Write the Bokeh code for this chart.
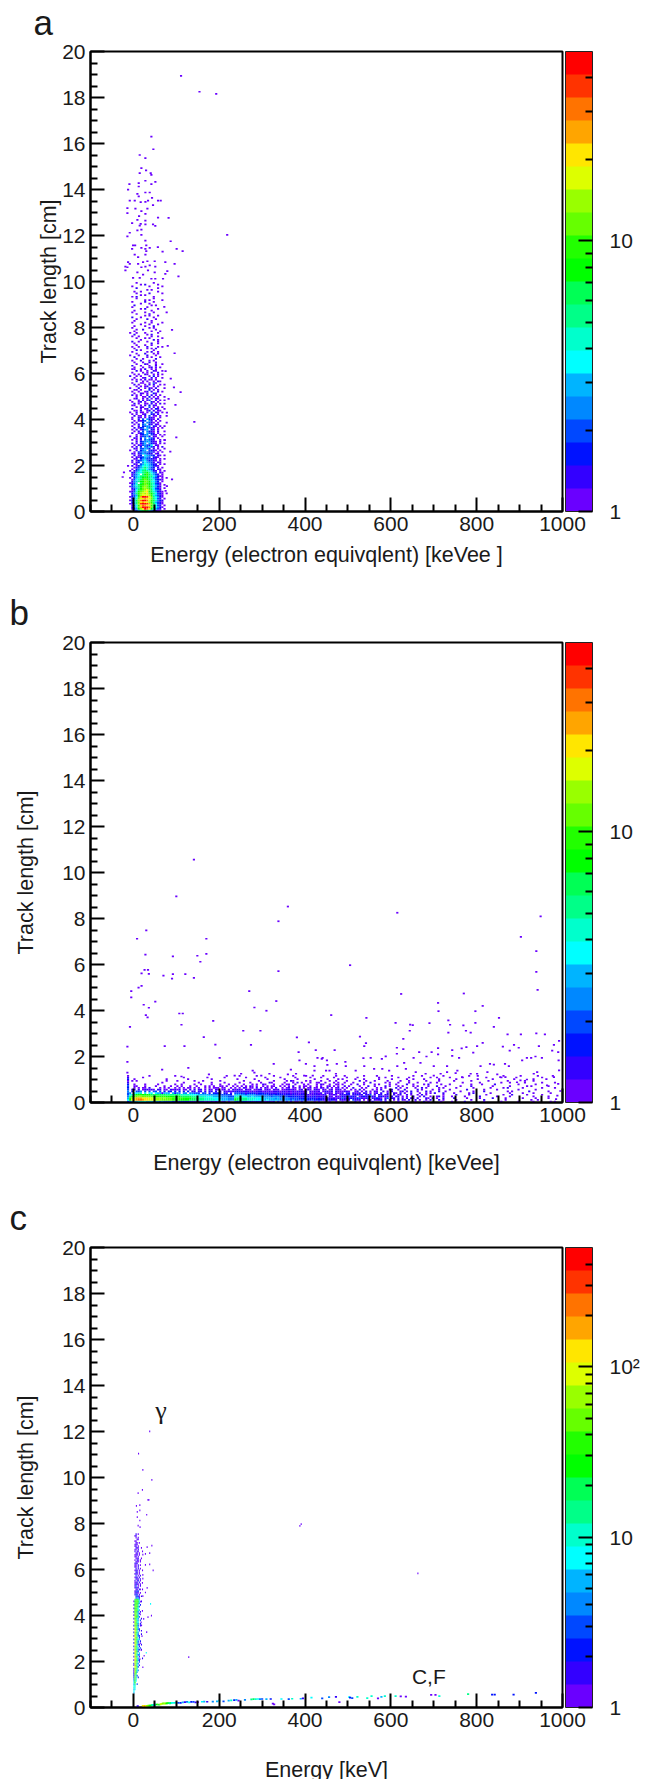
from bokeh.plotting import figure
from bokeh.layouts import column
from bokeh.models import FixedTicker, ColorBar, LogColorMapper, Label, Range1d, Title
from bokeh.embed import file_html
from bokeh.resources import INLINE

FONT = "Liberation Sans"
x_major = [0, 200, 400, 600, 800, 1000]
x_minor = [-100, -50, 50, 100, 150, 250, 300, 350, 450, 500, 550, 650, 700, 750, 850, 900, 950]
y_major = [0, 2, 4, 6, 8, 10, 12, 14, 16, 18, 20]
y_minor = [0.5 * i for i in range(41) if i % 4]
palette = ["#6a00ff", "#3300ff", "#0012ff", "#0048ff", "#0088ff", "#00b4ff", "#00ffff", "#00ffcc", "#00ff88", "#00ff55",
           "#00ff00", "#22ff00", "#66ff00", "#99ff00", "#ddff00", "#ffe600", "#ffa500", "#ff7300", "#ff3300", "#ff0000"]
levels = "0123456789abcdefghij"   # one character per colour band of the palette; "." is an empty bin

# Panel a: bins 5 keVee wide from -15, 0.075 cm tall from 0
a_rows_low = [
 "...13589a9742100....", "..025adfjhfa7531.0..", "..137cgjjjhc96420...", "..036bfhgfeb8631.0..", ".0148dijjigc96320...",
 "..258cfgffdb85310...", ".0259dhjjheb97421...", "..147cefgfec8631.0..", ".0236bgjjifc86420...", "..135adefedb75310...",
 "..248bdedfca86320.0.", ".0137acdefb975210...", "..0269bcdec96431....", "..1358acdcb86320.0..", ".03478acdca97521....",
 "..2469abcca86430.0..", ".0137.9bcba87320....", "..1458aacca7642.0...", "..03679bcb9863210...", ".0.2578aba97531.0.0.",
 "..1356899b8864200...", "..0346.8ab97531.0...", "..2157689a8643.10...", ".0.13568987521.0.0..", "..0.246786431.10....",
 "...0135797532.1.0...", "0.1.02467654210.....",
]
a_rows_mid = [
 "...10.35765321.0.0..", "..0.12.465431.10....", "..1.0235642310.0....", "...01.24533210.0.0..", "..0.1023543.210.....",
 "...1.02.65432.10.0..", "..10.1354321.01.....", "...0.23434231.0.0...", ".0..1.245.3210.0....", "...10.33542.1.0..0..",
 "..0.1.2.43531.0.1...", "...0.1034326.10.....", "..1.0.135.4210.0.0..", "....1.23445210.1....", "..0.0.1.35321..0.0..",
 "...10.2.4.531.0.....", ".0..1.03352.10..0...", "....0.1244.310.0.0..", "..1..023.5321.0.....", "...0.1.3.4210.1..0..",
 "..0.1.0245.21.0.....", "...1.023.5310.0.0...", "..0..1.2344.20.0.0..", "...0.1.35.21.10.....", "..1.0..2.4310.0...0.",
 "...0.1023.41.0.0....", "..0..1.3.5210.1.....",
]
a_rows_up = [
 "..0..10.0.210..0....", "...1.00.1.3.00.0..0.", "..0.0..01..21.1.....", ".0..1.00.0.3.10.0...", "...00.1..02.1.00....",
 "..1...0.01.0.21..0..", "....0.10..3.0.0.0...", "..00..0.1.2.10......", "...1.0..00.1.0.1.0..", "..0..01.0..20.0.....",
 ".0...0.1.03..1.0.0..", "...01..0.1.0.10.....", "....0..00.2.0.0..0..", "..1.0.0..1.1.0.0....", "...0..10.0..20......",
 "..0..0..01.1..1.0...", "...00.0...2.0.0.....", ".0...1..0.10.1...0..", "....0.0.01..0.0.....", "...1.0..0.1.1..0.0..",
 "..0...00..0.30......", "....1..0.0..0.10....", "..0.0.0.1.00.0......", "...0...01..1.0..0...", ".1..0.0...0.2.0.....",
 "...0.0..10..0.0.0...", "..0....0.0.1..1.....", "....1.0..0..10..0...", "..00..0.1..0.0......", "...0...0..01.0.0....",
 "..1...0...0..1......", "....0...10...0..0...", "...0...0..1..0......", "..0...1...0.0.......", "....0..0.....1......",
 "...1.....0.0...0....", ".0...0...1...0......", "....0...1...0.0.....", "..0......0.1..0.....", "....1.0.....0.......",
 "...0.....0.0.1......", "..0..0...1....0.0...", "....0...0..0........", "...0.......1..0.....", "..1..0...0....0.....",
 "......0.....1.0.....", "....0...0.0.....0...", "..0..0.....0..0.....", "...1.....0.1........", ".0..0...0.....0.....",
 "...0.......0...0....", "....0..1.....0......", "..0.......0.0.......", "...0....0...1.......", "......0...0...0.....",
 "..0.....0..0....0...", "...0.......0........", "....0....1...0......", "..1...0.....0.......", "........0.0...0.....",
 "....0.....1.........", "..0.....0...0.....0.", "...0.......0........", "......0.1.....0.....", "..0......0..........",
 "...1.......0.0......", "......0...0.........", "..0.....1...0.......", "........0.0.....0...", "....0.......0.......",
 "..0.1.......0.......", "......0.0...........", "....0.....1.....0...", "...0..0.......0.....", ".........0.0........",
 "....1.........0.....", "..0.......0.....0...", "......0.1.....0.....", "....0.......0.......",
]
a_sparse = [(111,18.94),(154,18.25),(193,18.16),(218.6,12.03),(41.9,16.3),(46.5,15.75),(14.7,15.5),(27.9,15.36),(18.6,14.93),
 (29.5,14.83),(40.3,14.71),(41.9,14.64),(14.7,14.71),(27.9,14.38),(51.2,14.33),(41.9,14.23),(-9.3,14.23),(12.4,14.28),(12.4,14.13),
 (-12.4,13.99),(27.9,13.87),(38,13.87),(9.3,13.81),(12.4,13.7),(43.4,13.64),(57.4,13.52),(63.6,13.52),(34.1,13.52),(-8.5,13.52),
 (3.1,13.52),(17,13.45),(28,13.46),(45.7,13.32),(-14,13.19),(4.7,13.17),(32.6,13.17),(-14,12.97),(18.6,13.06),(28,12.94),(13.2,12.84),
 (57.4,12.78),(82,12.77),(9.3,12.68),(27.9,12.65),(17,12.51),(-3,12.54),(14.7,12.43),(45.7,12.48),(51,12.42),(28,12.48),(18.6,12.26),
 (9.3,12.22),(-8.5,12.12),(-14,11.96),(18.6,12.03),(27.9,11.78),(86.8,11.75),(-0.8,11.57),(4,11.57),(30,11.57),(57,11.49),(18.6,11.46),
 (27.9,11.42),(38,11.46),(100.8,11.42),(-3,11.42),(30,11.32),(68,11.3),(114.7,11.32),(3,11.17),(11,11.06),(28,11.17),(-12.4,10.84),
 (-8.5,10.77),(32.6,10.88),(22.5,10.84),(49.6,10.88),(74.4,10.84),(96,10.77),(-18.6,10.65),(-14,10.62),(11,10.77),(18.6,10.62),(28,10.65),
 (38,10.7),(51,10.65),(79,10.45),(-18.6,10.48),(9.3,10.4),(34,10.48),(49.6,10.4),(74.4,10.33),(22.5,10.3),(-0.8,10.16),(14.7,10.16),
 (105,10.22),(41.9,10.12),(51,10.12),(69,10.12),(142,3.9),(90,7.9),(96,6.88),(87,5.78),(94.5,5.4),(110,5.19),(98,4.64),(100,3.22),
 (72,8.9),(80,7.2),(75,6.1),(82,4.9),(78,4.3),(73,3.1),(86,2.6),(90,1.4),(78,1.1),(75,0.9),(-22,1.7),(-25,1.5)]

# Panel b: four blocks of bins, 5 keVee wide, 0.075 cm tall from 0
b_rows_1 = [
 "2345567765554443433332222222211111110101010.01.0..", "6aefghhgffeeedddcccccbbbbaaaa999888877777666555444",
 "5bdegggfffeeedddcdcccbbbbbaaaa99988877776665555444", "48bccddcccccbbbbbbaaaaaaa9999988877776665555444333",
 "3679aabaaaa99999998888888777766665555544444333332.", "34.6677.7.66.6551555.5244.44.44333.33.2.2221.21.1.",
 "4.2.334.3.3.33.3.2.22.2.2.2.2.11.11.1.11.1.1.10101", "3.11.1.011010.11.00.10101.00.1.1.11.0.10.10.01.0.1",
 "2..0.0.00.1....0.0.0..0.0.0.00.0.0..0.0.000.00..0.", "3..00...0....0...0..0..0.0...0..0...0.0.0..00.0..0",
 "2..0....0.....0.......0..0.....0..0....0...0...0..", "1...............0.........0......0.....0.....0...",
 "0.0.0.............0....0.......0...0.......0......", "2..0..............0.........0..........0..........",
 "1......0..................0..........0.......0....", "0.........0...........0.......................0..",
]
b_rows_2 = [
 "3232221211211101101.1.0.1.1.00.1.0...0.0..0.0..0.", "a98888777666665655555444443433333222322221121211.1",
 "99988877776666555554544444333322232222121211111011", "7776665565555444434443333222222122111211111.10.100",
 "5554434444333333223222212212111211101111011.1010.1", "3332312222122212111121111101110111.101101.1010.100",
 "1211111010111010101110110101011101.10101.01101.100", "0110.101.0011.010.101.0011010.01.010.110.10.01.010",
 "0.0.10.00.1.0.10.0.1..0.01.00.1.0.01.00.10.1.0.01.", ".0.0.0.10.0..0.0.00..0.0.0.1..0.00.0..0.0..01.0.0.",
 "0...0...0.0..10...0...0.00..0...0.0...0.10..0..00.", "..0....0....0...10.....0...0.1.0...0..00..0...0.0.",
 "....0......0......0.....0.10.....0.0....0...0..0..", ".0.......0.....0.......0.....0.......0.....0....0.",
 ".....0........0......0......0......0....0.....0...", "..0.......0.......0........0.....0.......0.....0..",
]
b_rows_3 = [
 "0.1...1.0...0.1...0.1.....0...1...0...1.0.....0..", "1101.3111.0.01.1012.1.1.0.1.10.1..1.0..0.1...1.0.",
 "3121211231012.11210.13.11.1.1.1.10.1...10.1.0..1.", "2113121.01211311.12101.1.11.0.0..1..0.1..0..01.0.",
 "1121.11211.113.1.11.11..1.01..1.0..0.1.0.......0.", "1.12.1101.11.0.01.1..1..10.1.0..1...0..0.0.1...1.",
 "0110..01.0.1.0.10..1.0.1...01.0.1..0...1.0...1..0", ".0..0.0.1.0...0.0.1...01..0..1.....1.0....0..0...",
 "0.0..1...0.0....0.0.0....1.0..0...0..1.0.....0.0.", ".1.0....0...1..0....1.0...0.0....0.0....0...1...0",
 "0...0..1..0....0.0....0..0....1..0....0.1.....0..", ".0...0....0..1......0.0...0....0...0.....0..0....",
 "..0.....1..0...0.....0.....0...0.......0.....0...", "0.....0...0......0.....0......0..0....0......0..",
 "..0....0.........0..0.....0....0.........0..0.....", ".0........0.....0......0.........0...0.........0..",
]
b_rows_4 = [
 ".0.....1........0.......0.......0......0.......0.0", "...0......0.....1.........0...........0..0........",
 "..1.....0.....0.....1.....0.......0.....0.....0...", ".0.....0......1.......0.....0..........0......0...",
 "...1.....0.......0.......0...1......0......0......", "..0......0.1.......0........0.....0....0.......0..",
 ".....0.....0....1..........0.0.......1........0...", "0.......1.......0.....0.........0.......0.........",
 "...0.......0.......0.....0.1......0........0.....0", ".....0....1.........0.......0.......0.0.......0...",
 "0.........0....0.....1..........0.......0.........", "......0.......0.........0...0......0.......0.....0",
 "..0.......0.......0........0.......0...0..........", "...0.........0......0.........0........0.....0....",
 "0.....0..........0......0......0...........0......", ".........0...0...........0.......0.......0......0.",
]
b_sparse = [(141,10.56),(100,8.96),(30,7.48),(8.5,7.12),(170,7.12),(28,6.43),(92,6.35),(149,6.38),(170,6.46),(156,6.12),(26,5.77),(34,5.77),
 (19,5.61),(36,5.59),(70,5.52),(92,5.58),(90,5.39),(121,5.58),(141,5.42),(19,5.07),(12,4.99),(-5,4.84),(-5,4.57),(51,4.39),(24,4.25),(36,4.12),
 (107,3.87),(115,3.87),(29,3.8),(33,3.7),(112,3.38),(-8,3.29),(186,3.55),(256,3.12),(296,3.12),(164,2.84),(-14,2.43),(73,2.45),(119,2.45),
 (191,2.52),(274,2.51),(201,1.94),(-14,1.77),(128,1.51),(67,1.43),(-14,1.3),(176,1.22),(112,1.13),(270,4.84),(282,4.13),(310,3.99),(333,4.41),
 (338,5.71),(338,7.88),(360,8.52),(381,2.83),(409,2.61),(425,2.28),(385,2.19),(327,1.68),(367,1.43),(387,1.83),(402,1.68),(429,1.94),(441,1.94),
 (451,1.83),(422,1.58),(422,1.39),(457,1.39),(360,1.22),(379,1.25),(398,1.17),(418,1.17),(251,1.25),(278,1.39),(282,1.3),(298,1.17),(317,1.25),
 (236,1.17),(615,8.25),(949,8.09),(903,7.2),(939,6.58),(939,5.68),(505,5.97),(942,4.9),(624,4.72),(770,4.74),(710,4.33),(711,3.97),(797,3.97),
 (814,4.2),(461,3.8),(543,3.68),(852,3.68),(611,3.46),(645,3.39),(651,3.36),(690,3.45),(734,3.57),(738,3.38),(769,3.35),(797,3.46),(840,3.29),
 (644,3.12),(734,3.04),(775,3.12),(786,3.04),(872,2.96),(903,2.96),(939,3.01),(959,2.96),(629,2.77),(528,2.86),(542,2.58),(538,2.45),(992,2.68),
 (814,2.59),(801,2.45),(776,2.41),(765,2.35),(710,2.36),(743,2.28),(614,2.38),(629,2.32),(469,2.28),(887,2.51),(877,2.26),(861,2.43),(980,2.51),
 (945,2.45),(898,2.38),(927,1.94),(952,1.94),(976,2.26),(990,2.19),(917,1.94),(937,2),(906,1.83),(866,1.68),(875,1.58),(831,1.68),(840,1.65),
 (809,1.58),(792,2.17),(743,2.03),(759,1.94),(710,2.09),(695,2.19),(666,2.19),(653,1.94),(683,2),(614,2.12),(588,2.01),(579,1.9),(553,1.94),
 (536,1.93),(494,1.77),(474,1.68),(452,1.64),(439,1.9),(631,1.72),(669,1.72),(700,1.58),(731,1.58),(755,1.39),(786,1.25),(825,1.32),(848,1.22),
 (867,1.1),(933,1.25),(991,1.83),(990,.81),(964,.74),(980,1.1),(941,1.32),(902,.96),(917,1),(894,.88),(855,1.1),(801,1.25),(766,1.1),(751,1.28),
 (731,1.32),(716,1.25),(700,1.17),(681,1.25),(658,1.32),(635,1.46),(615,1.58),(596,1.39),(580,1.46),(561,1.46),(538,1.58),(518,1.39),(495,1.58),
 (472,1.25),(449,1.39),(988,.3),(995,.5),(985,.15),(992,1.4)]

# Panel c: bins 2.5 keV wide from 0, 0.075 cm tall from 0.6 cm
c_rows = [
 "5..........", "6..........", "56.........", "76.........", "67.........", "58.3.......", "6a.........", "5b6........", "4c7........", "3d8.2......",
 "2d73.......", "2d9.........", "1ea5.......", "1eb64......", "2dc7.......", ".ed83......", "1fb6.2.....", "2ec74......", ".dd8.3.....", "1fc952.....",
 ".ed75...1..", "1fb8.1.....", ".ec634.....", "2dd7.5.....", ".fc93......", "1eb742.1...", ".dc85.3....", "2eb7.2.....", ".fc631.1...", "1dd84......",
 ".ec73.2....", "2dc965.....", ".fb8.2.....", "1ed742.....", ".dc63..1...", "2fb85......", ".ed7.3.1...", "1dc942.....", ".ec75......", "2db83.1....",
 ".cc94.2....", "1eb76......", ".dc85.3....", "2ca64..1...", ".dba73.....", "1cc95.....", ".bd862.....", "2cb94.1....", ".bcb75.....", "1ab96......",
 ".bca83.....", "1acb7.2....", ".9bb94.....", "1abca6.1...", ".9ba95.....",
 "..3451.....", "..2320.1...", ".132.1.....", ".0210.0....", ".1132......", "..01.10.0..", ".1201......", ".03.0.1....", ".0210.0....", ".011.1.....",
 ".1.02.0....", "..201.1....", ".011.1.....", "..3.0.1....", ".101.0.....", "..21.0.....", ".011.0..0..", "..1.1.0....", ".10.1......", ".00.1.0....",
 ".111.......", "..100.0....", ".0.20.0....", "..001..0...", ".01.0......", ".001.0.....", "..01.0.....", ".1.10...0..", ".00.1......", "..110..0...",
 ".01.0......", ".010.......", "..10.0.....", ".00........", "...10......", "..0.0......", ".01........", "..1.0......",
]
c_band_energy = [10,22,25,27,30,32,35,38,40,43,45,48,50,52,55,58,60,63,65,68,70,73,75,78,80,83,85,88,90,95,100,105,110,115,120,125,130,135,140,145,150,160,165,172,
 185,195,200,210,222,228,235,240,245,260,275,280,285,290,295,300,310,320,325,328,345,362,370,390,395,415,440,456,472,480,503,505,510,522,545,555,570,578,586,611,623,635,694,704,713,780,836,842,886,938]
c_band_track = [.06,.07,.06,.06,.07,.07,.08,.08,.08,.1,.11,.1,.12,.13,.13,.13,.12,.14,.16,.17,.18,.17,.18,.18,.19,.19,.18,.2,.2,.2,.21,.2,.2,.22,.23,.24,.22,.24,.24,.22,.23,.25,.26,.25,
 .26,.27,.3,.27,.3,.31,.32,.33,.3,.33,.35,.36,.36,.37,.36,.37,.36,.37,.17,.14,.37,.36,.38,.38,.4,.43,.4,.45,.46,.23,.45,.43,.41,.46,.41,.49,.4,.46,.49,.49,.48,.47,.55,.55,.49,.58,.56,.56,.56,.64]
c_band_level = [1,15,15,16,14,13,12,11,10,9,7,6,5,7,10,12,9,13,14,13,12,14,12,10,11,9,8,9,6,7,5,3,2,5,1,4,6,2,3,1,0,6,5,1,
 4,5,6,3,5,7,2,5,0,4,8,9,7,6,4,3,5,2,0,0,6,3,7,5,1,6,3,4,1,0,6,2,3,7,7,7,0,5,7,7,0,0,0,0,7,8,2,2,2,2]
c_sparse = [(38,12.01),(12,11.04),(22,10.33),(43,9.9),(21,9.46),(11,9.32),(34,9.03),(36,9.03),(15,8.8),(7,8.77),(15,8.57),(9,8.51),(9,8.28),(31,8.38),(15,8.13),
 (11,7.91),(15.5,7.84),(391,7.97),(388,7.9),(129,2.19),(663,5.83),(43,7.04),(32,6.97),(28,6.68),(38,6.71),(22,6.65),(28,6.2),(38,6.22),(46,5.96),(22,5.77),
 (22,5.6),(21,5.42),(32,5.2),(28,5),(22,4.84),(42,3.99),(34,3.93),(31,3.28),(22,1.75),(19,3.57),(17,4.6),(21,4.2),(16,4.05),(24,3.85),(18,3.7),(20,3.1),(16,2.8),(18,2.5),(15,2.1),(25,2.25)]
c_cyan = [(40,4.51),(30,2.38)]

def add_rows(xs, ys, colors, rows, e0, dx, t0, dt):
    for r, row in enumerate(rows):
        for c, ch in enumerate(row):
            if ch != ".":
                xs.append(e0 + dx * (c + 0.5)); ys.append(t0 + dt * (r + 0.5)); colors.append(palette[levels.index(ch)])

def draw_cells(p, rows_blocks, sparse, dx, dt):
    xs, ys, colors = [], [], []
    for rows, e0, t0 in rows_blocks:
        add_rows(xs, ys, colors, rows, e0, dx, t0, dt)
    p.rect(xs, ys, width=dx, height=dt, fill_color=colors, line_color=None)
    p.rect([s[0] for s in sparse], [s[1] for s in sparse], width=dx, height=dt, fill_color=palette[0], line_color=None)

def panel(letter, offset, standoff, xlabel, xstand, ystand, top, bottom, high, cmajor, cminor, overrides, margin=(0, 0, 0, 0)):
    p = figure(frame_width=472, frame_height=460, x_range=Range1d(-100, 1000), y_range=Range1d(0, 20),
               toolbar_location=None, output_backend="svg", min_border_left=90, min_border_right=0,
               min_border_top=top, min_border_bottom=bottom, background_fill_color="white", margin=margin)
    p.grid.visible = False
    p.outline_line_color = "black"; p.outline_line_width = 2
    for ax, maj, mnr in ((p.xaxis[0], x_major, x_minor), (p.yaxis[0], y_major, y_minor)):
        ax.ticker = FixedTicker(ticks=maj, minor_ticks=mnr)
        ax.axis_line_width = 2
        ax.major_tick_in = 14; ax.major_tick_out = 0
        ax.minor_tick_in = 7; ax.minor_tick_out = 0
        ax.major_tick_line_width = 2; ax.minor_tick_line_width = 2
        ax.major_label_text_font = FONT; ax.major_label_text_font_size = "21px"
        ax.major_label_text_color = "#1a1a1a"
        ax.axis_label_text_font = FONT; ax.axis_label_text_font_size = "21.5px"
        ax.axis_label_text_font_style = "normal"; ax.axis_label_text_color = "#1a1a1a"
        ax.major_label_standoff = 5
    p.xaxis[0].axis_label = xlabel; p.xaxis[0].axis_label_standoff = xstand
    p.yaxis[0].axis_label = "Track length [cm]"; p.yaxis[0].axis_label_standoff = ystand
    mapper = LogColorMapper(palette=palette, low=1, high=high)
    cb = ColorBar(color_mapper=mapper, ticker=FixedTicker(ticks=cmajor, minor_ticks=cminor), width=27, margin=2, padding=0, location=(3, 0),
                  major_tick_in=14, minor_tick_in=7, major_tick_line_color="black", minor_tick_line_color="black",
                  major_tick_line_width=2, minor_tick_line_width=2, bar_line_color="#222222", bar_line_width=1,
                  major_label_text_font=FONT, major_label_text_font_size="21px", major_label_text_color="#1a1a1a",
                  label_standoff=17, major_label_overrides=overrides, border_line_color=None)
    p.add_layout(cb, "right")
    p.add_layout(Title(text=letter, align="left", offset=offset, standoff=standoff, text_font=FONT, text_font_size="35px",
                       text_font_style="normal", text_color="#1a1a1a"), "above")
    return p

pa = panel("a", -57, 20, "Energy (electron equivqlent) [keVee ]", 9, -2, 66, 62, 50.1, [1, 10], [2,3,4,5,6,7,8,9,20,30,40], {1:"1",10:"10"}, margin=(-15, 0, 0, 0))
pb = panel("b", -81, 22, "Energy (electron equivqlent) [keVee]", 26, 21, 69, 76, 50.1, [1, 10], [2,3,4,5,6,7,8,9,20,30,40], {1:"1",10:"10"})
pc = panel("c", -81, 22, "Energy [keV]", 28, 21, 69, 68, 501, [1, 10, 100], [2,3,4,5,6,7,8,9,20,30,40,50,60,70,80,90,200,300,400], {1:"1",10:"10",100:"10²"})
pc.add_layout(Label(x=51, y=12.9, text="γ", text_font="Liberation Serif", text_font_size="26px", text_color="#1a1a1a", text_baseline="alphabetic"))
pc.add_layout(Label(x=649, y=1.36, text="C,F", text_font=FONT, text_font_size="21px", text_color="#1a1a1a", text_baseline="alphabetic"))

draw_cells(pa, [(a_rows_low + a_rows_mid + a_rows_up, -15, 0)], a_sparse, 5, 0.075)
draw_cells(pb, [(b_rows_1, -15, 0), (b_rows_2, 235, 0), (b_rows_3, 485, 0), (b_rows_4, 735, 0)], b_sparse, 5, 0.075)
draw_cells(pc, [(c_rows, 0, 0.6)], c_sparse, 2.5, 0.075)
pc.rect(c_band_energy, c_band_track, width=5, height=0.075, fill_color=[palette[i] for i in c_band_level], line_color=None)
pc.rect([s[0] for s in c_cyan], [s[1] for s in c_cyan], width=2.5, height=0.075, fill_color=palette[6], line_color=None)

open("out.html", "w").write(file_html(column(pa, pb, pc, spacing=0), INLINE))
